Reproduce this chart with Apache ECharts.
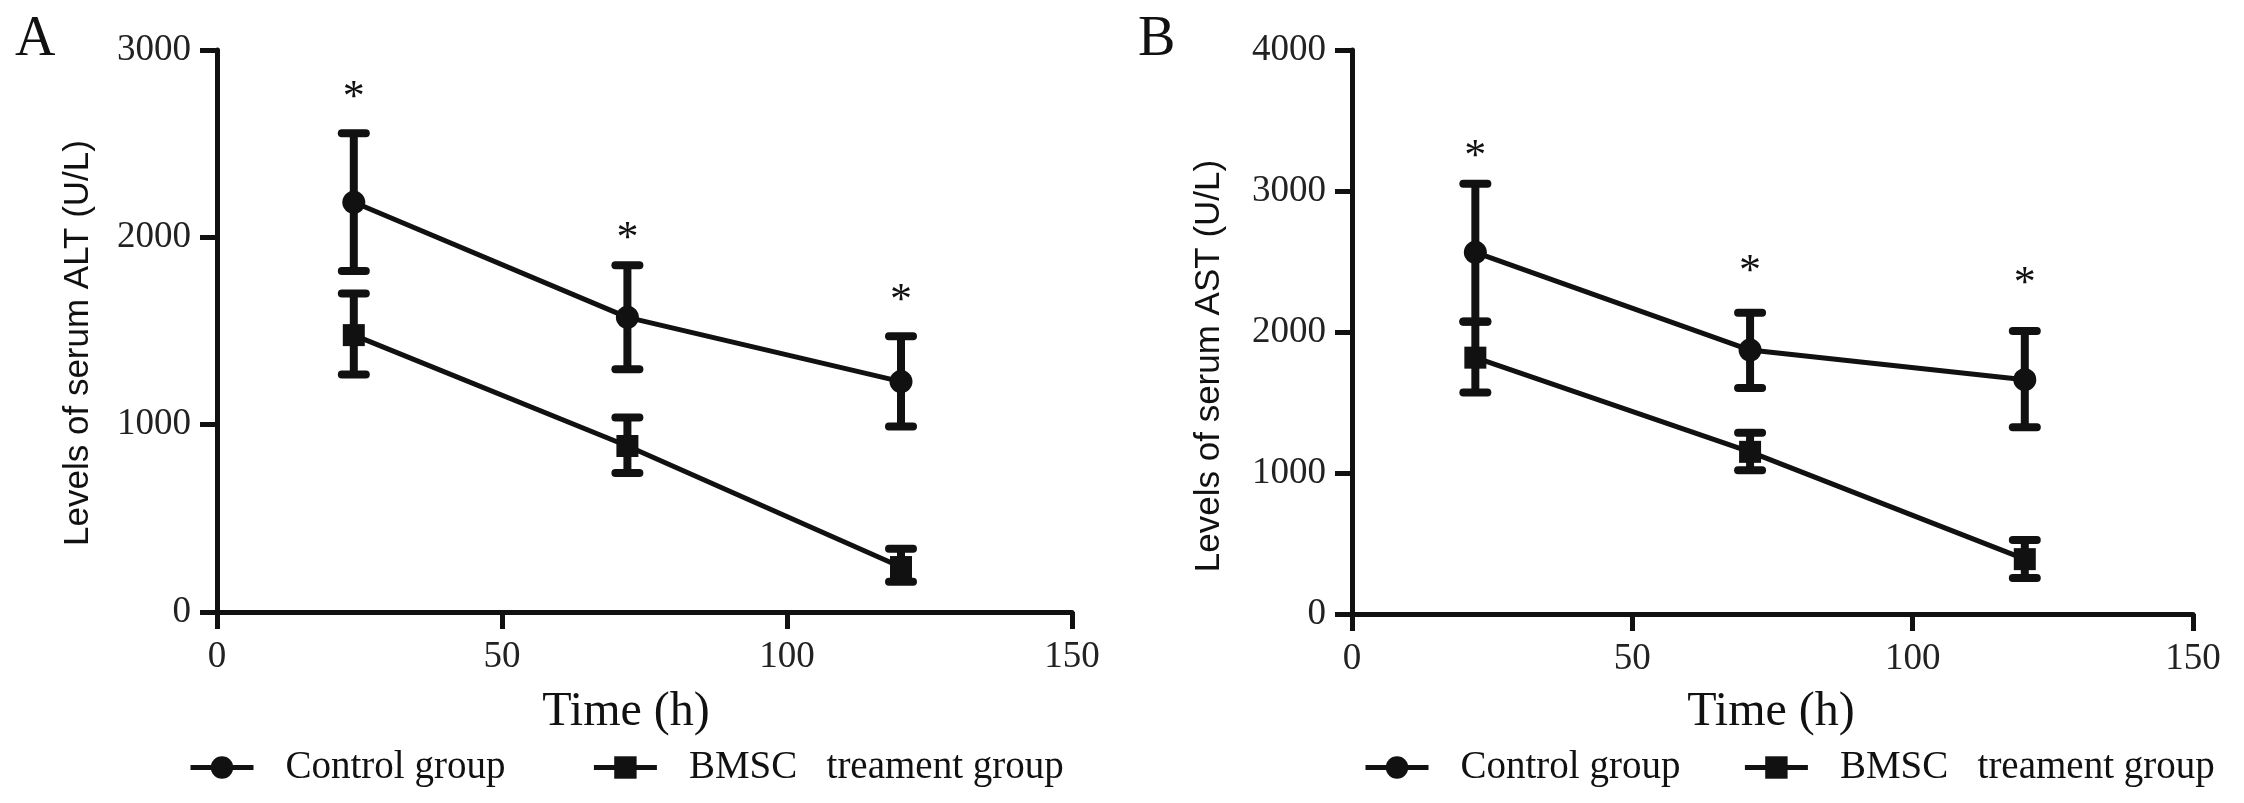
<!DOCTYPE html>
<html>
<head>
<meta charset="utf-8">
<script src="https://cdn.jsdelivr.net/npm/echarts@6/dist/echarts.min.js"></script>
<style>
html,body{margin:0;padding:0;background:#fff;}
#chart{width:2244px;height:803px;}
</style>
</head>
<body>
<div id="chart"></div>
<script>
// ---- Data ----
const seriesNames = ['Control group', 'BMSC   treament group'];

// Panel A: serum ALT (U/L)
const timeA = [24, 72, 120];
const ctrlA = [2187, 1573, 1230];
const ctrlAHigh = [2556, 1851, 1472];
const ctrlALow = [1820, 1296, 990];
const bmscA = [1478, 886, 240];
const bmscAHigh = [1700, 1038, 338];
const bmscALow = [1268, 742, 162];
const starA = [2787, 2035, 1705];

// Panel B: serum AST (U/L)
const timeB = [22, 71, 120];
const ctrlB = [2565, 1872, 1662];
const ctrlBHigh = [3052, 2137, 2007];
const ctrlBLow = [2075, 1603, 1324];
const bmscB = [1818, 1150, 389];
const bmscBHigh = [2073, 1285, 524];
const bmscBLow = [1571, 1020, 255];
const starB = [3305, 2489, 2400];

// Axis ticks
const xTicks = [0, 50, 100, 150];
const yTicksA = [0, 1000, 2000, 3000];
const yTicksB = [0, 1000, 2000, 3000, 4000];

// ---- Helpers ----
const INK = '#111';
const SERIF = 'Liberation Serif';
const SANS = 'Liberation Sans';

function pairs(xs, ys) { return xs.map((x, i) => [x, ys[i]]); }
function triples(xs, lo, hi) { return xs.map((x, i) => [x, lo[i], hi[i]]); }

function renderErr(params, api) {
  const x = api.value(0), lo = api.value(1), hi = api.value(2);
  const pHi = api.coord([x, hi]);
  const pLo = api.coord([x, lo]);
  const hw = 12;
  const st = { stroke: INK, lineWidth: 8, lineCap: 'round' };
  return {
    type: 'group',
    children: [
      { type: 'line', shape: { x1: pHi[0], y1: pHi[1], x2: pLo[0], y2: pLo[1] }, style: { stroke: INK, lineWidth: 8 } },
      { type: 'line', shape: { x1: pHi[0] - hw, y1: pHi[1], x2: pHi[0] + hw, y2: pHi[1] }, style: st },
      { type: 'line', shape: { x1: pLo[0] - hw, y1: pLo[1], x2: pLo[0] + hw, y2: pLo[1] }, style: st }
    ]
  };
}

function renderStar(params, api) {
  const p = api.coord([api.value(0), api.value(1)]);
  return {
    type: 'text',
    x: p[0], y: p[1] + 9,
    style: { text: '*', fontSize: 44, fontFamily: SERIF, fill: INK, align: 'center', verticalAlign: 'middle' }
  };
}

function plainNum(v) { return String(v); }

function xAxisDef(gi) {
  return {
    type: 'value', gridIndex: gi, min: xTicks[0], max: xTicks[xTicks.length - 1], interval: 50,
    axisLine: { show: true, onZero: false, lineStyle: { color: INK, width: 5 } },
    axisTick: { show: true, length: 17, lineStyle: { color: INK, width: 5 } },
    axisLabel: { color: '#222', fontSize: 37, fontFamily: SERIF, margin: 27, formatter: plainNum },
    splitLine: { show: false }
  };
}
function yAxisDef(gi, ticks) {
  return {
    type: 'value', gridIndex: gi, min: ticks[0], max: ticks[ticks.length - 1], interval: 1000,
    axisLine: { show: true, onZero: false, lineStyle: { color: INK, width: 5 } },
    axisTick: { show: true, length: 17, lineStyle: { color: INK, width: 5 } },
    axisLabel: { color: '#222', fontSize: 37, fontFamily: SERIF, margin: 26, formatter: plainNum },
    splitLine: { show: false }
  };
}

function lineSeries(name, gi, data, symbol, size) {
  return {
    name: name, type: 'line', xAxisIndex: gi, yAxisIndex: gi, data: data,
    symbol: symbol, symbolSize: size, showSymbol: true,
    lineStyle: { color: INK, width: 5 }, itemStyle: { color: INK },
    z: 3, animation: false
  };
}
function errSeries(gi, data) {
  return {
    type: 'custom', xAxisIndex: gi, yAxisIndex: gi, data: data,
    renderItem: renderErr, encode: { x: 0, y: [1, 2] }, z: 2, silent: true, animation: false
  };
}
function starSeries(gi, data) {
  return {
    type: 'custom', xAxisIndex: gi, yAxisIndex: gi, data: data,
    renderItem: renderStar, encode: { x: 0, y: 1 }, z: 4, silent: true, animation: false
  };
}
function legendDef(left, gap) {
  return {
    data: seriesNames, left: left, top: 743, orient: 'horizontal',
    itemWidth: 63, itemHeight: 28, itemGap: gap,
    lineStyle: { width: 5, color: INK }, itemStyle: { color: INK },
    textStyle: { fontSize: 39, fontFamily: SERIF, color: '#111', padding: [0, 0, 0, 27] },
    selectedMode: false
  };
}

const chart = echarts.init(document.getElementById('chart'), null, { renderer: 'canvas' });
chart.setOption({
  backgroundColor: '#fff',
  animation: false,
  grid: [
    { left: 217, top: 50, width: 855, height: 562, containLabel: false },
    { left: 1352, top: 50, width: 841, height: 564, containLabel: false }
  ],
  xAxis: [xAxisDef(0), xAxisDef(1)],
  yAxis: [yAxisDef(0, yTicksA), yAxisDef(1, yTicksB)],
  legend: [legendDef(183, 86), legendDef(1358, 62)],
  series: [
    errSeries(0, triples(timeA, ctrlALow, ctrlAHigh)),
    errSeries(0, triples(timeA, bmscALow, bmscAHigh)),
    lineSeries(seriesNames[0], 0, pairs(timeA, ctrlA), 'circle', 23),
    lineSeries(seriesNames[1], 0, pairs(timeA, bmscA), 'rect', 22),
    starSeries(0, pairs(timeA, starA)),
    errSeries(1, triples(timeB, ctrlBLow, ctrlBHigh)),
    errSeries(1, triples(timeB, bmscBLow, bmscBHigh)),
    lineSeries(seriesNames[0], 1, pairs(timeB, ctrlB), 'circle', 23),
    lineSeries(seriesNames[1], 1, pairs(timeB, bmscB), 'rect', 22),
    starSeries(1, pairs(timeB, starB))
  ],
  graphic: [
    { type: 'text', left: 15, top: 12, style: { text: 'A', fontSize: 56, fontFamily: SERIF, fill: INK } },
    { type: 'text', left: 1138, top: 12, style: { text: 'B', fontSize: 56, fontFamily: SERIF, fill: INK } },
    { type: 'text', x: 78, y: 343, rotation: Math.PI / 2,
      style: { text: 'Levels of serum ALT (U/L)', fontSize: 35, fontFamily: SANS, fill: INK, align: 'center', verticalAlign: 'middle' } },
    { type: 'text', x: 1209, y: 366, rotation: Math.PI / 2,
      style: { text: 'Levels of serum AST (U/L)', fontSize: 35, fontFamily: SANS, fill: INK, align: 'center', verticalAlign: 'middle' } },
    { type: 'text', x: 626, y: 712,
      style: { text: 'Time (h)', fontSize: 48, fontFamily: SERIF, fill: INK, align: 'center', verticalAlign: 'middle' } },
    { type: 'text', x: 1771, y: 712,
      style: { text: 'Time (h)', fontSize: 48, fontFamily: SERIF, fill: INK, align: 'center', verticalAlign: 'middle' } }
  ]
});
</script>
</body>
</html>
